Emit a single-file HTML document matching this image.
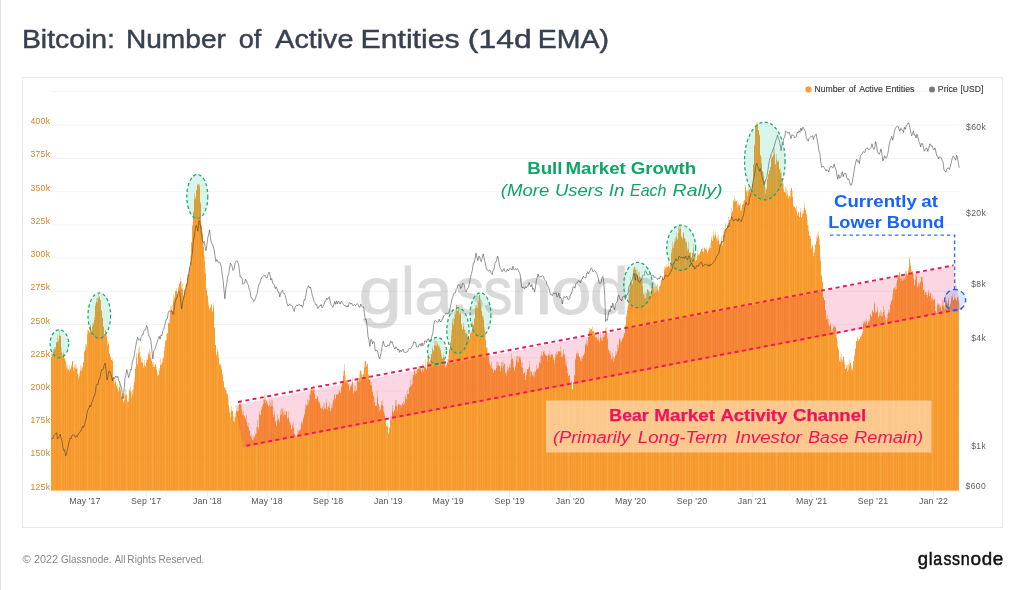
<!DOCTYPE html>
<html><head><meta charset="utf-8"><title>Bitcoin: Number of Active Entities (14d EMA)</title>
<style>
html,body{margin:0;padding:0;background:#fff;}
body{width:1024px;height:590px;position:relative;overflow:hidden;font-family:"Liberation Sans",sans-serif;}
.edge{position:absolute;left:0px;top:0;width:1px;height:590px;background:#e4e4e4;}
.title{position:absolute;left:22px;top:22px;font-size:26.3px;color:#374151;white-space:nowrap;letter-spacing:1.42px;line-height:32px;-webkit-text-stroke:0.35px #374151;}
.card{position:absolute;left:22px;top:77px;width:981px;height:451px;border:1px solid #eaeaea;box-sizing:border-box;background:#fff;}
.foot{position:absolute;left:22px;top:552px;font-size:10.6px;color:#7a7a7a;letter-spacing:0.25px;line-height:14px;white-space:nowrap;}
.logo{position:absolute;right:21px;top:545px;font-size:20px;color:#111;font-weight:bold;letter-spacing:-0.3px;line-height:26px;white-space:nowrap;}
svg{position:absolute;left:0;top:0;will-change:transform;}
svg text{font-family:"Liberation Sans",sans-serif;}
</style></head><body>
<div class="edge"></div>
<div class="card"></div>
<svg width="1024" height="590" viewBox="0 0 1024 590">
<defs>
<pattern id="stripes" width="13" height="8" patternUnits="userSpaceOnUse" fill="#fff"><rect x="1" width="1" height="8" fill-opacity="0.09"/><rect x="3" width="1" height="8" fill-opacity="0.07"/><rect x="6" width="1" height="8" fill-opacity="0.05"/><rect x="8" width="1" height="8" fill-opacity="0.03"/><rect x="9" width="1" height="8" fill-opacity="0.1"/><rect x="10" width="1" height="8" fill-opacity="0.05"/><rect x="12" width="1" height="8" fill-opacity="0.03"/></pattern>
<clipPath id="oc"><path d="M51 490.6V357.2 H52V354.5 H53V351.3 H54V349.1 H55V348.7 H56V342.4 H57V342.1 H58V341.0 H59V335.8 H60V336.0 H61V352.5 H62V356.0 H63V354.3 H64V358.3 H65V361.6 H66V367.5 H67V369.8 H68V369.7 H69V370.9 H70V369.2 H71V366.5 H72V361.3 H73V371.0 H74V368.2 H75V368.3 H76V369.1 H77V373.8 H78V378.4 H79V376.3 H80V370.5 H81V371.3 H82V368.4 H83V362.6 H84V351.6 H85V349.6 H86V346.2 H87V334.4 H88V330.9 H89V332.6 H90V325.6 H91V330.8 H92V326.4 H93V324.4 H94V320.0 H95V306.1 H96V302.0 H97V302.4 H98V298.5 H99V296.7 H100V300.2 H101V310.7 H102V318.0 H103V326.8 H104V334.3 H105V330.5 H106V336.5 H107V345.8 H108V343.7 H109V353.7 H110V357.6 H111V360.1 H112V361.2 H113V377.7 H114V383.8 H115V381.4 H116V386.0 H117V388.4 H118V391.4 H119V386.9 H120V390.3 H121V396.4 H122V396.3 H123V402.4 H124V400.2 H125V395.8 H126V395.3 H127V402.2 H128V402.0 H129V390.8 H130V391.6 H131V397.6 H132V394.5 H133V389.8 H134V382.2 H135V368.9 H136V357.6 H137V364.5 H138V353.6 H139V352.2 H140V357.4 H141V362.6 H142V362.4 H143V367.7 H144V365.3 H145V367.0 H146V362.4 H147V359.7 H148V354.0 H149V354.5 H150V358.0 H151V360.9 H152V364.3 H153V367.0 H154V367.1 H155V365.1 H156V370.0 H157V376.0 H158V375.6 H159V370.8 H160V364.7 H161V365.3 H162V362.5 H163V358.8 H164V350.7 H165V341.2 H166V339.9 H167V333.3 H168V323.3 H169V323.1 H170V312.0 H171V309.6 H172V310.9 H173V301.1 H174V298.0 H175V290.9 H176V290.9 H177V295.2 H178V287.5 H179V283.4 H180V281.5 H181V288.2 H182V289.7 H183V295.5 H184V289.9 H185V290.5 H186V284.1 H187V277.7 H188V274.8 H189V269.1 H190V262.0 H191V242.3 H192V225.8 H193V212.4 H194V199.4 H195V198.5 H196V190.2 H197V184.9 H198V185.3 H199V186.2 H200V203.4 H201V225.4 H202V234.3 H203V247.6 H204V260.9 H205V273.5 H206V290.2 H207V295.9 H208V305.6 H209V309.6 H210V307.5 H211V304.8 H212V311.8 H213V306.8 H214V328.1 H215V345.2 H216V355.3 H217V351.8 H218V357.9 H219V364.4 H220V365.6 H221V369.8 H222V375.1 H223V381.6 H224V387.9 H225V390.1 H226V394.0 H227V394.7 H228V405.2 H229V412.4 H230V417.9 H231V410.5 H232V411.1 H233V421.3 H234V422.2 H235V417.1 H236V410.8 H237V412.0 H238V411.1 H239V404.2 H240V404.3 H241V409.5 H242V414.9 H243V414.9 H244V416.5 H245V418.7 H246V421.0 H247V425.9 H248V427.8 H249V430.8 H250V436.4 H251V437.5 H252V440.2 H253V439.4 H254V437.4 H255V434.8 H256V433.2 H257V426.4 H258V429.4 H259V413.7 H260V415.2 H261V410.0 H262V407.1 H263V404.0 H264V399.7 H265V403.1 H266V400.8 H267V404.9 H268V406.4 H269V405.3 H270V407.1 H271V405.7 H272V406.0 H273V417.1 H274V414.3 H275V421.7 H276V425.7 H277V420.2 H278V419.3 H279V422.0 H280V415.3 H281V414.4 H282V410.3 H283V416.4 H284V414.3 H285V415.3 H286V411.2 H287V419.2 H288V418.0 H289V422.2 H290V425.0 H291V429.4 H292V426.2 H293V427.9 H294V433.8 H295V436.5 H296V437.0 H297V435.0 H298V432.5 H299V430.8 H300V429.5 H301V422.8 H302V424.8 H303V418.2 H304V414.9 H305V409.2 H306V405.6 H307V405.0 H308V403.2 H309V400.8 H310V394.5 H311V389.4 H312V390.7 H313V389.6 H314V394.0 H315V398.9 H316V398.9 H317V397.0 H318V401.3 H319V403.1 H320V408.0 H321V409.1 H322V407.4 H323V410.2 H324V408.4 H325V409.0 H326V402.9 H327V409.7 H328V407.0 H329V408.0 H330V411.2 H331V408.5 H332V407.4 H333V400.2 H334V394.8 H335V399.1 H336V395.1 H337V394.5 H338V394.3 H339V390.8 H340V392.9 H341V386.7 H342V383.4 H343V375.7 H344V370.6 H345V381.2 H346V380.3 H347V382.6 H348V384.5 H349V390.6 H350V386.8 H351V385.4 H352V382.2 H353V393.5 H354V391.5 H355V391.6 H356V391.1 H357V379.8 H358V381.8 H359V378.0 H360V371.1 H361V374.6 H362V378.0 H363V374.6 H364V367.8 H365V361.0 H366V366.8 H367V364.5 H368V375.6 H369V379.7 H370V385.1 H371V385.4 H372V392.1 H373V396.2 H374V402.5 H375V406.0 H376V406.0 H377V397.6 H378V404.2 H379V411.1 H380V409.8 H381V405.0 H382V405.5 H383V411.5 H384V415.6 H385V419.3 H386V426.4 H387V426.3 H388V434.0 H389V428.3 H390V420.0 H391V418.4 H392V410.7 H393V413.1 H394V410.6 H395V406.0 H396V405.7 H397V410.6 H398V404.1 H399V404.9 H400V405.5 H401V407.6 H402V403.7 H403V404.9 H404V403.6 H405V397.0 H406V399.2 H407V393.9 H408V394.0 H409V388.1 H410V386.4 H411V385.8 H412V384.3 H413V375.1 H414V370.4 H415V375.0 H416V374.1 H417V369.1 H418V369.6 H419V366.2 H420V368.5 H421V371.9 H422V369.8 H423V372.0 H424V367.0 H425V366.6 H426V369.8 H427V362.1 H428V359.3 H429V362.5 H430V363.0 H431V354.3 H432V349.2 H433V351.3 H434V345.0 H435V345.8 H436V346.3 H437V344.2 H438V346.2 H439V347.5 H440V350.4 H441V356.7 H442V358.8 H443V357.0 H444V361.7 H445V367.8 H446V367.1 H447V362.5 H448V359.2 H449V348.9 H450V343.0 H451V335.7 H452V323.1 H453V325.4 H454V318.7 H455V314.3 H456V304.8 H457V311.0 H458V309.2 H459V314.4 H460V313.2 H461V324.8 H462V329.4 H463V326.7 H464V329.8 H465V332.9 H466V334.1 H467V337.1 H468V336.2 H469V339.1 H470V333.9 H471V332.3 H472V323.9 H473V325.1 H474V319.0 H475V308.3 H476V306.5 H477V308.5 H478V303.0 H479V295.0 H480V303.5 H481V311.2 H482V316.6 H483V319.4 H484V330.6 H485V340.3 H486V347.7 H487V352.9 H488V356.5 H489V364.1 H490V366.3 H491V367.9 H492V369.1 H493V373.1 H494V370.1 H495V370.2 H496V368.0 H497V365.4 H498V365.5 H499V366.6 H500V371.6 H501V365.9 H502V367.9 H503V366.1 H504V364.1 H505V372.8 H506V376.3 H507V370.3 H508V371.5 H509V367.3 H510V367.8 H511V359.2 H512V358.9 H513V367.5 H514V371.2 H515V366.2 H516V359.7 H517V362.4 H518V361.9 H519V357.9 H520V359.6 H521V366.5 H522V368.0 H523V373.8 H524V373.0 H525V380.3 H526V375.6 H527V369.3 H528V369.1 H529V366.8 H530V376.4 H531V371.8 H532V375.4 H533V376.5 H534V376.6 H535V371.9 H536V369.5 H537V369.6 H538V368.5 H539V362.8 H540V363.2 H541V354.9 H542V357.1 H543V351.9 H544V353.5 H545V354.5 H546V356.0 H547V360.8 H548V354.5 H549V356.0 H550V357.0 H551V354.8 H552V355.0 H553V359.8 H554V363.4 H555V357.6 H556V355.2 H557V354.4 H558V350.9 H559V351.7 H560V352.2 H561V356.9 H562V357.5 H563V353.7 H564V355.4 H565V364.4 H566V366.2 H567V373.2 H568V376.3 H569V375.6 H570V384.4 H571V381.7 H572V389.4 H573V382.5 H574V375.6 H575V359.6 H576V353.4 H577V355.8 H578V354.8 H579V357.3 H580V360.6 H581V361.3 H582V359.1 H583V355.6 H584V353.5 H585V345.6 H586V344.2 H587V345.4 H588V337.0 H589V331.6 H590V330.3 H591V329.0 H592V331.2 H593V331.5 H594V334.3 H595V337.6 H596V337.4 H597V339.7 H598V340.8 H599V342.6 H600V338.1 H601V340.7 H602V340.9 H603V337.6 H604V336.3 H605V331.7 H606V331.6 H607V339.1 H608V350.1 H609V352.7 H610V355.0 H611V359.3 H612V358.6 H613V362.0 H614V358.8 H615V356.0 H616V354.5 H617V351.1 H618V347.8 H619V339.8 H620V342.4 H621V342.1 H622V339.3 H623V337.2 H624V333.4 H625V325.4 H626V316.6 H627V310.4 H628V305.1 H629V294.4 H630V281.9 H631V283.5 H632V284.4 H633V269.6 H634V267.3 H635V269.7 H636V275.7 H637V275.3 H638V277.1 H639V276.4 H640V277.9 H641V282.1 H642V285.7 H643V295.1 H644V298.3 H645V298.6 H646V297.2 H647V289.6 H648V292.0 H649V295.9 H650V296.7 H651V291.3 H652V285.9 H653V289.2 H654V293.5 H655V292.5 H656V291.0 H657V289.6 H658V292.3 H659V286.7 H660V285.6 H661V280.2 H662V278.1 H663V279.4 H664V270.2 H665V268.3 H666V267.6 H667V267.3 H668V265.9 H669V267.8 H670V264.1 H671V253.5 H672V247.8 H673V248.1 H674V242.5 H675V241.1 H676V237.0 H677V239.5 H678V232.7 H679V229.6 H680V228.7 H681V237.6 H682V239.3 H683V232.8 H684V238.2 H685V242.0 H686V243.0 H687V250.8 H688V248.9 H689V252.8 H690V253.1 H691V257.5 H692V253.1 H693V249.7 H694V254.5 H695V260.9 H696V260.1 H697V255.4 H698V254.4 H699V255.1 H700V251.8 H701V249.0 H702V251.5 H703V252.4 H704V247.9 H705V249.5 H706V250.6 H707V253.4 H708V250.8 H709V248.4 H710V248.1 H711V239.5 H712V241.0 H713V235.8 H714V238.1 H715V234.8 H716V239.1 H717V240.8 H718V240.3 H719V244.3 H720V244.3 H721V242.1 H722V245.7 H723V234.8 H724V234.9 H725V229.0 H726V228.4 H727V225.1 H728V222.9 H729V223.6 H730V219.9 H731V212.9 H732V211.5 H733V201.0 H734V201.6 H735V201.6 H736V201.0 H737V207.7 H738V205.1 H739V205.4 H740V210.4 H741V211.1 H742V205.1 H743V203.7 H744V200.2 H745V187.3 H746V191.4 H747V196.3 H748V191.4 H749V189.5 H750V187.0 H751V193.2 H752V184.4 H753V164.7 H754V145.7 H755V127.6 H756V126.0 H757V124.0 H758V130.6 H759V135.2 H760V155.7 H761V163.6 H762V171.2 H763V176.0 H764V180.7 H765V193.8 H766V189.7 H767V179.1 H768V174.5 H769V171.0 H770V167.1 H771V159.2 H772V156.9 H773V154.8 H774V154.0 H775V164.5 H776V159.5 H777V162.2 H778V162.0 H779V169.4 H780V172.8 H781V178.1 H782V182.8 H783V189.3 H784V191.9 H785V192.4 H786V195.5 H787V194.8 H788V198.5 H789V196.1 H790V197.3 H791V188.3 H792V196.9 H793V206.5 H794V207.0 H795V208.4 H796V211.2 H797V215.7 H798V212.4 H799V217.4 H800V212.2 H801V217.4 H802V213.5 H803V213.5 H804V208.0 H805V210.2 H806V215.0 H807V225.0 H808V231.3 H809V235.8 H810V238.6 H811V248.4 H812V245.8 H813V255.9 H814V252.4 H815V244.7 H816V241.5 H817V238.0 H818V235.7 H819V245.0 H820V261.2 H821V275.5 H822V282.0 H823V297.3 H824V300.2 H825V310.0 H826V319.6 H827V319.4 H828V324.6 H829V326.1 H830V325.2 H831V331.5 H832V332.2 H833V327.8 H834V326.6 H835V328.0 H836V337.8 H837V346.9 H838V350.0 H839V361.4 H840V361.8 H841V359.3 H842V362.0 H843V357.0 H844V364.0 H845V368.9 H846V367.5 H847V371.5 H848V370.1 H849V365.4 H850V363.1 H851V369.1 H852V370.5 H853V361.8 H854V355.9 H855V349.3 H856V341.4 H857V338.8 H858V341.1 H859V339.5 H860V337.3 H861V335.6 H862V333.6 H863V324.1 H864V322.2 H865V323.6 H866V321.1 H867V325.5 H868V322.7 H869V320.9 H870V314.7 H871V317.1 H872V311.2 H873V312.4 H874V304.0 H875V312.7 H876V312.4 H877V311.1 H878V318.1 H879V315.6 H880V315.2 H881V316.2 H882V315.9 H883V312.1 H884V315.6 H885V320.4 H886V324.3 H887V318.7 H888V312.4 H889V312.5 H890V304.6 H891V301.6 H892V299.2 H893V290.0 H894V288.5 H895V289.7 H896V289.0 H897V280.5 H898V275.4 H899V272.4 H900V281.3 H901V278.6 H902V280.9 H903V279.7 H904V279.2 H905V277.3 H906V273.3 H907V275.4 H908V270.8 H909V259.2 H910V266.2 H911V272.3 H912V271.4 H913V278.9 H914V285.2 H915V279.8 H916V277.5 H917V287.5 H918V284.6 H919V286.3 H920V282.6 H921V277.0 H922V281.9 H923V289.9 H924V294.9 H925V292.5 H926V295.1 H927V297.8 H928V292.8 H929V296.1 H930V292.9 H931V300.4 H932V298.6 H933V299.9 H934V299.6 H935V310.9 H936V312.9 H937V304.7 H938V304.9 H939V307.4 H940V307.3 H941V310.5 H942V305.4 H943V306.3 H944V309.2 H945V301.1 H946V301.8 H947V303.9 H948V300.3 H949V306.6 H950V303.9 H951V298.8 H952V297.3 H953V300.3 H954V298.6 H955V298.6 H956V300.5 H957V298.1 H958V300.8 H959V490.6 Z"/></clipPath>
</defs>
<g stroke="#f3f3f3" stroke-width="1"><line x1="51" x2="959.5" y1="91.6" y2="91.6"/><line x1="51" x2="959.5" y1="125.2" y2="125.2"/><line x1="51" x2="959.5" y1="158.4" y2="158.4"/><line x1="51" x2="959.5" y1="191.7" y2="191.7"/><line x1="51" x2="959.5" y1="224.9" y2="224.9"/><line x1="51" x2="959.5" y1="258.1" y2="258.1"/><line x1="51" x2="959.5" y1="291.3" y2="291.3"/><line x1="51" x2="959.5" y1="324.5" y2="324.5"/><line x1="51" x2="959.5" y1="357.8" y2="357.8"/><line x1="51" x2="959.5" y1="391.0" y2="391.0"/><line x1="51" x2="959.5" y1="424.2" y2="424.2"/><line x1="51" x2="959.5" y1="457.4" y2="457.4"/></g>
<g stroke="#ececec" stroke-width="1"><line x1="84.9" x2="84.9" y1="490.6" y2="497"/><line x1="146.1" x2="146.1" y1="490.6" y2="497"/><line x1="207.4" x2="207.4" y1="490.6" y2="497"/><line x1="267.0" x2="267.0" y1="490.6" y2="497"/><line x1="328.1" x2="328.1" y1="490.6" y2="497"/><line x1="388.4" x2="388.4" y1="490.6" y2="497"/><line x1="448.2" x2="448.2" y1="490.6" y2="497"/><line x1="509.7" x2="509.7" y1="490.6" y2="497"/><line x1="570.3" x2="570.3" y1="490.6" y2="497"/><line x1="630.7" x2="630.7" y1="490.6" y2="497"/><line x1="692.0" x2="692.0" y1="490.6" y2="497"/><line x1="752.3" x2="752.3" y1="490.6" y2="497"/><line x1="811.7" x2="811.7" y1="490.6" y2="497"/><line x1="873.0" x2="873.0" y1="490.6" y2="497"/><line x1="933.5" x2="933.5" y1="490.6" y2="497"/></g>
<g opacity="0.145"><text x="358.60" y="314.40" font-size="66.3" font-weight="normal" font-style="normal" fill="#000" stroke="#000" stroke-width="0.9" textLength="43.47" lengthAdjust="spacingAndGlyphs" >g</text><text x="401.03" y="314.40" font-size="66.3" font-weight="normal" font-style="normal" fill="#000" stroke="#000" stroke-width="0.9" textLength="13.53" lengthAdjust="spacingAndGlyphs" >l</text><text x="414.36" y="314.40" font-size="66.3" font-weight="normal" font-style="normal" fill="#000" stroke="#000" stroke-width="0.9" textLength="38.35" lengthAdjust="spacingAndGlyphs" >a</text><text x="455.15" y="314.40" font-size="66.3" font-weight="normal" font-style="normal" fill="#000" stroke="#000" stroke-width="0.9" textLength="29.18" lengthAdjust="spacingAndGlyphs" >s</text><text x="483.35" y="314.40" font-size="66.3" font-weight="normal" font-style="normal" fill="#000" stroke="#000" stroke-width="0.9" textLength="29.18" lengthAdjust="spacingAndGlyphs" >s</text><text x="510.26" y="314.40" font-size="66.3" font-weight="normal" font-style="normal" fill="#000" stroke="#000" stroke-width="0.9" textLength="41.83" lengthAdjust="spacingAndGlyphs" >n</text><text x="550.60" y="314.40" font-size="66.3" font-weight="normal" font-style="normal" fill="#000" stroke="#000" stroke-width="0.9" textLength="41.05" lengthAdjust="spacingAndGlyphs" >o</text><text x="589.80" y="314.40" font-size="66.3" font-weight="normal" font-style="normal" fill="#000" stroke="#000" stroke-width="0.9" textLength="39.33" lengthAdjust="spacingAndGlyphs" >d</text><text x="625.84" y="314.40" font-size="66.3" font-weight="normal" font-style="normal" fill="#000" stroke="#000" stroke-width="0.9" textLength="35.45" lengthAdjust="spacingAndGlyphs" >e</text></g>
<path d="M51 490.6V353.5 H52V351.7 H53V348.8 H54V347.1 H55V346.8 H56V342.1 H57V335.7 H58V339.3 H59V330.2 H60V335.6 H61V347.4 H62V352.9 H63V351.5 H64V358.2 H65V359.7 H66V364.4 H67V364.9 H68V368.8 H69V365.2 H70V368.2 H71V364.6 H72V360.9 H73V367.1 H74V365.1 H75V364.3 H76V366.0 H77V367.4 H78V374.6 H79V372.6 H80V365.2 H81V367.5 H82V366.2 H83V362.5 H84V351.3 H85V343.9 H86V344.1 H87V329.2 H88V329.9 H89V326.8 H90V325.2 H91V330.0 H92V323.3 H93V322.5 H94V317.0 H95V303.6 H96V298.1 H97V297.6 H98V293.5 H99V296.5 H100V300.1 H101V310.3 H102V318.0 H103V326.6 H104V334.3 H105V330.1 H106V335.0 H107V340.3 H108V341.4 H109V353.5 H110V356.6 H111V360.1 H112V358.6 H113V377.6 H114V377.0 H115V380.4 H116V385.5 H117V383.6 H118V390.6 H119V381.3 H120V385.1 H121V393.8 H122V396.3 H123V401.5 H124V393.7 H125V388.9 H126V393.8 H127V401.6 H128V398.6 H129V388.5 H130V386.6 H131V391.5 H132V389.9 H133V384.9 H134V377.2 H135V367.1 H136V353.3 H137V364.0 H138V348.5 H139V345.4 H140V356.0 H141V362.6 H142V358.8 H143V365.7 H144V360.1 H145V365.9 H146V359.3 H147V359.3 H148V352.5 H149V348.5 H150V351.9 H151V358.3 H152V362.3 H153V362.0 H154V364.8 H155V363.8 H156V367.1 H157V373.1 H158V374.5 H159V367.9 H160V358.6 H161V362.8 H162V358.5 H163V356.5 H164V346.6 H165V340.3 H166V333.4 H167V333.0 H168V323.1 H169V319.3 H170V306.1 H171V305.9 H172V305.1 H173V294.6 H174V295.7 H175V290.5 H176V288.3 H177V293.9 H178V287.5 H179V283.4 H180V278.1 H181V281.4 H182V283.0 H183V295.4 H184V288.9 H185V284.5 H186V283.1 H187V274.7 H188V274.6 H189V267.1 H190V255.6 H191V242.2 H192V225.6 H193V211.0 H194V193.1 H195V195.9 H196V189.9 H197V184.3 H198V184.1 H199V183.7 H200V202.0 H201V225.4 H202V231.4 H203V241.3 H204V255.7 H205V268.1 H206V287.7 H207V294.5 H208V301.5 H209V308.2 H210V307.2 H211V303.9 H212V311.6 H213V303.0 H214V327.3 H215V344.8 H216V354.4 H217V349.0 H218V351.2 H219V364.4 H220V363.3 H221V367.3 H222V374.1 H223V381.6 H224V386.7 H225V387.4 H226V390.3 H227V393.0 H228V398.4 H229V408.8 H230V412.5 H231V406.1 H232V410.8 H233V415.9 H234V416.9 H235V413.1 H236V410.0 H237V410.5 H238V405.7 H239V400.7 H240V401.9 H241V404.9 H242V412.1 H243V410.5 H244V416.3 H245V418.1 H246V414.3 H247V423.6 H248V423.1 H249V430.6 H250V435.5 H251V434.5 H252V440.1 H253V435.4 H254V436.3 H255V432.6 H256V427.3 H257V420.1 H258V427.3 H259V411.6 H260V414.6 H261V406.9 H262V404.5 H263V398.8 H264V393.9 H265V397.2 H266V400.8 H267V402.8 H268V406.0 H269V399.9 H270V402.5 H271V399.4 H272V400.0 H273V415.4 H274V411.1 H275V420.7 H276V425.4 H277V413.8 H278V418.4 H279V420.4 H280V409.5 H281V408.3 H282V407.5 H283V412.0 H284V409.7 H285V415.2 H286V410.9 H287V418.1 H288V411.3 H289V421.0 H290V423.2 H291V428.7 H292V423.7 H293V420.9 H294V433.4 H295V435.1 H296V436.2 H297V429.2 H298V430.7 H299V429.2 H300V429.4 H301V422.5 H302V421.3 H303V417.2 H304V413.1 H305V403.8 H306V405.6 H307V399.1 H308V400.1 H309V394.6 H310V388.9 H311V389.2 H312V388.0 H313V385.3 H314V389.3 H315V398.9 H316V398.1 H317V395.8 H318V400.4 H319V402.8 H320V405.3 H321V408.3 H322V407.4 H323V403.7 H324V402.6 H325V408.1 H326V398.7 H327V407.2 H328V405.1 H329V401.7 H330V411.1 H331V404.6 H332V402.5 H333V399.5 H334V393.6 H335V398.3 H336V393.9 H337V393.9 H338V392.4 H339V390.4 H340V392.2 H341V386.6 H342V381.7 H343V371.3 H344V364.3 H345V374.9 H346V380.3 H347V381.0 H348V384.0 H349V389.2 H350V386.5 H351V383.9 H352V377.0 H353V391.2 H354V385.3 H355V385.7 H356V389.2 H357V379.8 H358V381.6 H359V373.4 H360V369.7 H361V371.2 H362V373.7 H363V374.6 H364V361.7 H365V360.9 H366V364.5 H367V362.8 H368V373.6 H369V379.2 H370V380.6 H371V382.1 H372V390.8 H373V396.1 H374V397.9 H375V405.9 H376V404.7 H377V390.8 H378V404.0 H379V406.9 H380V409.0 H381V401.1 H382V400.0 H383V406.1 H384V412.7 H385V418.7 H386V425.5 H387V423.2 H388V432.2 H389V427.5 H390V416.3 H391V416.1 H392V405.3 H393V412.0 H394V410.0 H395V399.7 H396V400.1 H397V405.8 H398V403.9 H399V404.2 H400V405.1 H401V404.4 H402V403.0 H403V401.0 H404V402.4 H405V394.2 H406V399.0 H407V390.3 H408V393.5 H409V387.1 H410V379.9 H411V384.3 H412V378.6 H413V374.5 H414V369.8 H415V373.1 H416V372.3 H417V368.7 H418V366.8 H419V366.0 H420V367.0 H421V370.9 H422V363.5 H423V366.9 H424V366.4 H425V359.8 H426V369.7 H427V356.1 H428V354.0 H429V361.7 H430V357.6 H431V353.6 H432V346.6 H433V350.4 H434V339.1 H435V341.2 H436V340.9 H437V341.4 H438V345.0 H439V345.6 H440V348.3 H441V353.3 H442V358.0 H443V354.8 H444V359.5 H445V365.8 H446V365.1 H447V358.9 H448V354.8 H449V348.8 H450V341.4 H451V330.1 H452V318.7 H453V318.6 H454V312.1 H455V309.4 H456V304.7 H457V310.5 H458V308.2 H459V311.9 H460V312.5 H461V323.6 H462V328.8 H463V322.8 H464V329.3 H465V330.2 H466V332.6 H467V334.1 H468V336.0 H469V337.4 H470V333.0 H471V330.8 H472V321.8 H473V325.0 H474V318.2 H475V305.1 H476V305.3 H477V308.1 H478V301.0 H479V294.6 H480V299.8 H481V309.7 H482V315.1 H483V316.3 H484V327.1 H485V333.9 H486V347.3 H487V347.2 H488V354.7 H489V360.5 H490V364.8 H491V361.5 H492V368.2 H493V370.4 H494V369.3 H495V370.2 H496V361.6 H497V362.1 H498V361.9 H499V365.4 H500V371.5 H501V361.7 H502V362.5 H503V361.6 H504V363.3 H505V372.8 H506V371.7 H507V366.1 H508V368.6 H509V364.6 H510V364.2 H511V353.4 H512V358.0 H513V361.1 H514V369.9 H515V365.4 H516V356.1 H517V355.6 H518V356.5 H519V355.9 H520V356.6 H521V363.1 H522V361.9 H523V373.5 H524V371.5 H525V380.2 H526V372.1 H527V369.2 H528V367.6 H529V361.0 H530V370.8 H531V371.5 H532V375.2 H533V371.3 H534V371.4 H535V371.6 H536V364.9 H537V367.7 H538V367.6 H539V361.2 H540V356.6 H541V351.5 H542V355.3 H543V350.4 H544V350.8 H545V354.3 H546V355.5 H547V356.1 H548V354.5 H549V351.0 H550V354.6 H551V353.9 H552V354.0 H553V357.4 H554V359.8 H555V353.5 H556V351.7 H557V352.6 H558V350.8 H559V351.1 H560V346.2 H561V351.0 H562V355.3 H563V349.1 H564V354.0 H565V358.9 H566V361.8 H567V368.4 H568V376.0 H569V374.7 H570V383.3 H571V381.2 H572V388.5 H573V382.1 H574V375.0 H575V359.3 H576V353.2 H577V350.8 H578V352.8 H579V357.1 H580V358.9 H581V356.4 H582V356.6 H583V355.3 H584V351.7 H585V343.6 H586V339.7 H587V341.1 H588V332.3 H589V327.7 H590V328.2 H591V328.7 H592V326.3 H593V330.7 H594V332.2 H595V333.7 H596V336.9 H597V338.0 H598V334.1 H599V342.1 H600V331.7 H601V337.7 H602V336.6 H603V332.3 H604V334.5 H605V327.7 H606V326.9 H607V337.6 H608V349.1 H609V350.8 H610V350.9 H611V358.5 H612V352.2 H613V357.0 H614V358.1 H615V350.9 H616V352.3 H617V344.4 H618V344.3 H619V337.6 H620V339.5 H621V340.6 H622V338.4 H623V335.2 H624V333.4 H625V324.6 H626V314.3 H627V306.7 H628V298.8 H629V289.2 H630V277.0 H631V280.0 H632V284.4 H633V268.7 H634V266.9 H635V268.2 H636V269.7 H637V269.4 H638V272.3 H639V271.5 H640V277.2 H641V277.7 H642V279.8 H643V294.3 H644V295.8 H645V298.2 H646V294.7 H647V289.6 H648V289.7 H649V290.5 H650V294.8 H651V287.8 H652V285.8 H653V282.9 H654V286.7 H655V286.5 H656V286.8 H657V284.0 H658V290.1 H659V286.1 H660V283.6 H661V279.1 H662V276.3 H663V276.8 H664V266.5 H665V267.0 H666V264.4 H667V267.3 H668V260.0 H669V266.6 H670V263.5 H671V249.8 H672V241.7 H673V244.6 H674V239.3 H675V237.3 H676V232.3 H677V239.5 H678V226.6 H679V224.4 H680V225.7 H681V235.7 H682V237.3 H683V232.8 H684V238.1 H685V238.9 H686V240.9 H687V247.6 H688V242.1 H689V252.6 H690V252.4 H691V257.5 H692V252.8 H693V244.0 H694V254.4 H695V256.5 H696V260.0 H697V249.9 H698V254.2 H699V253.0 H700V250.9 H701V249.0 H702V247.8 H703V251.1 H704V247.4 H705V249.4 H706V247.6 H707V253.0 H708V249.3 H709V246.6 H710V243.2 H711V236.5 H712V240.8 H713V230.6 H714V234.8 H715V231.5 H716V237.2 H717V236.8 H718V234.4 H719V244.3 H720V242.4 H721V236.2 H722V240.4 H723V231.7 H724V229.5 H725V222.9 H726V228.3 H727V224.4 H728V216.6 H729V219.7 H730V219.3 H731V207.9 H732V211.3 H733V200.3 H734V195.6 H735V199.3 H736V200.4 H737V203.5 H738V202.2 H739V205.0 H740V203.4 H741V207.5 H742V204.6 H743V201.1 H744V200.1 H745V185.0 H746V190.4 H747V189.8 H748V186.2 H749V189.5 H750V186.5 H751V190.3 H752V182.2 H753V164.6 H754V143.9 H755V126.7 H756V122.4 H757V122.2 H758V130.2 H759V134.4 H760V154.8 H761V157.5 H762V171.1 H763V172.3 H764V180.6 H765V187.4 H766V188.6 H767V178.9 H768V173.6 H769V170.5 H770V166.8 H771V155.0 H772V156.9 H773V148.5 H774V148.2 H775V164.3 H776V154.1 H777V160.8 H778V159.7 H779V168.7 H780V168.6 H781V172.4 H782V181.0 H783V183.9 H784V191.4 H785V186.4 H786V188.8 H787V191.0 H788V196.2 H789V195.5 H790V190.4 H791V188.0 H792V191.0 H793V205.4 H794V207.0 H795V208.0 H796V205.9 H797V213.7 H798V211.7 H799V216.9 H800V208.0 H801V217.3 H802V211.1 H803V210.2 H804V202.9 H805V210.1 H806V213.2 H807V219.9 H808V225.9 H809V235.8 H810V236.3 H811V247.8 H812V244.2 H813V252.7 H814V249.7 H815V244.4 H816V236.3 H817V233.8 H818V231.2 H819V238.4 H820V258.6 H821V275.4 H822V281.3 H823V296.4 H824V300.2 H825V309.4 H826V316.4 H827V315.3 H828V318.9 H829V325.8 H830V322.7 H831V329.7 H832V329.0 H833V324.7 H834V326.1 H835V326.3 H836V332.4 H837V340.6 H838V348.7 H839V359.4 H840V356.8 H841V353.9 H842V359.4 H843V356.1 H844V360.4 H845V368.7 H846V365.0 H847V364.8 H848V363.8 H849V359.6 H850V363.1 H851V365.2 H852V367.7 H853V360.9 H854V353.9 H855V348.1 H856V341.1 H857V336.2 H858V338.9 H859V339.2 H860V336.2 H861V334.7 H862V330.7 H863V321.1 H864V321.5 H865V320.8 H866V318.9 H867V324.7 H868V321.1 H869V319.5 H870V313.9 H871V316.0 H872V310.1 H873V312.3 H874V301.9 H875V310.7 H876V312.1 H877V306.6 H878V316.7 H879V312.2 H880V310.0 H881V311.7 H882V313.6 H883V306.0 H884V309.9 H885V317.2 H886V317.7 H887V313.9 H888V309.1 H889V310.3 H890V303.5 H891V299.9 H892V294.3 H893V287.9 H894V287.3 H895V286.6 H896V282.8 H897V275.1 H898V274.7 H899V272.4 H900V278.3 H901V273.8 H902V273.9 H903V275.7 H904V277.7 H905V270.8 H906V270.7 H907V273.7 H908V267.8 H909V256.8 H910V262.7 H911V269.6 H912V270.9 H913V273.6 H914V284.9 H915V274.6 H916V271.7 H917V286.4 H918V282.1 H919V282.8 H920V281.1 H921V276.9 H922V277.0 H923V289.9 H924V289.5 H925V291.9 H926V292.2 H927V295.1 H928V289.8 H929V295.7 H930V292.6 H931V297.8 H932V295.2 H933V299.9 H934V298.4 H935V310.4 H936V312.6 H937V303.3 H938V303.2 H939V304.3 H940V305.2 H941V310.5 H942V299.9 H943V301.1 H944V306.0 H945V294.6 H946V300.1 H947V302.7 H948V298.0 H949V306.1 H950V303.3 H951V295.8 H952V294.5 H953V300.2 H954V293.3 H955V298.0 H956V299.7 H957V296.7 H958V296.7 H959V490.6 Z" fill="#f6941f" fill-opacity="0.42"/>
<path d="M51 490.6V357.2 H52V354.5 H53V351.3 H54V349.1 H55V348.7 H56V342.4 H57V342.1 H58V341.0 H59V335.8 H60V336.0 H61V352.5 H62V356.0 H63V354.3 H64V358.3 H65V361.6 H66V367.5 H67V369.8 H68V369.7 H69V370.9 H70V369.2 H71V366.5 H72V361.3 H73V371.0 H74V368.2 H75V368.3 H76V369.1 H77V373.8 H78V378.4 H79V376.3 H80V370.5 H81V371.3 H82V368.4 H83V362.6 H84V351.6 H85V349.6 H86V346.2 H87V334.4 H88V330.9 H89V332.6 H90V325.6 H91V330.8 H92V326.4 H93V324.4 H94V320.0 H95V306.1 H96V302.0 H97V302.4 H98V298.5 H99V296.7 H100V300.2 H101V310.7 H102V318.0 H103V326.8 H104V334.3 H105V330.5 H106V336.5 H107V345.8 H108V343.7 H109V353.7 H110V357.6 H111V360.1 H112V361.2 H113V377.7 H114V383.8 H115V381.4 H116V386.0 H117V388.4 H118V391.4 H119V386.9 H120V390.3 H121V396.4 H122V396.3 H123V402.4 H124V400.2 H125V395.8 H126V395.3 H127V402.2 H128V402.0 H129V390.8 H130V391.6 H131V397.6 H132V394.5 H133V389.8 H134V382.2 H135V368.9 H136V357.6 H137V364.5 H138V353.6 H139V352.2 H140V357.4 H141V362.6 H142V362.4 H143V367.7 H144V365.3 H145V367.0 H146V362.4 H147V359.7 H148V354.0 H149V354.5 H150V358.0 H151V360.9 H152V364.3 H153V367.0 H154V367.1 H155V365.1 H156V370.0 H157V376.0 H158V375.6 H159V370.8 H160V364.7 H161V365.3 H162V362.5 H163V358.8 H164V350.7 H165V341.2 H166V339.9 H167V333.3 H168V323.3 H169V323.1 H170V312.0 H171V309.6 H172V310.9 H173V301.1 H174V298.0 H175V290.9 H176V290.9 H177V295.2 H178V287.5 H179V283.4 H180V281.5 H181V288.2 H182V289.7 H183V295.5 H184V289.9 H185V290.5 H186V284.1 H187V277.7 H188V274.8 H189V269.1 H190V262.0 H191V242.3 H192V225.8 H193V212.4 H194V199.4 H195V198.5 H196V190.2 H197V184.9 H198V185.3 H199V186.2 H200V203.4 H201V225.4 H202V234.3 H203V247.6 H204V260.9 H205V273.5 H206V290.2 H207V295.9 H208V305.6 H209V309.6 H210V307.5 H211V304.8 H212V311.8 H213V306.8 H214V328.1 H215V345.2 H216V355.3 H217V351.8 H218V357.9 H219V364.4 H220V365.6 H221V369.8 H222V375.1 H223V381.6 H224V387.9 H225V390.1 H226V394.0 H227V394.7 H228V405.2 H229V412.4 H230V417.9 H231V410.5 H232V411.1 H233V421.3 H234V422.2 H235V417.1 H236V410.8 H237V412.0 H238V411.1 H239V404.2 H240V404.3 H241V409.5 H242V414.9 H243V414.9 H244V416.5 H245V418.7 H246V421.0 H247V425.9 H248V427.8 H249V430.8 H250V436.4 H251V437.5 H252V440.2 H253V439.4 H254V437.4 H255V434.8 H256V433.2 H257V426.4 H258V429.4 H259V413.7 H260V415.2 H261V410.0 H262V407.1 H263V404.0 H264V399.7 H265V403.1 H266V400.8 H267V404.9 H268V406.4 H269V405.3 H270V407.1 H271V405.7 H272V406.0 H273V417.1 H274V414.3 H275V421.7 H276V425.7 H277V420.2 H278V419.3 H279V422.0 H280V415.3 H281V414.4 H282V410.3 H283V416.4 H284V414.3 H285V415.3 H286V411.2 H287V419.2 H288V418.0 H289V422.2 H290V425.0 H291V429.4 H292V426.2 H293V427.9 H294V433.8 H295V436.5 H296V437.0 H297V435.0 H298V432.5 H299V430.8 H300V429.5 H301V422.8 H302V424.8 H303V418.2 H304V414.9 H305V409.2 H306V405.6 H307V405.0 H308V403.2 H309V400.8 H310V394.5 H311V389.4 H312V390.7 H313V389.6 H314V394.0 H315V398.9 H316V398.9 H317V397.0 H318V401.3 H319V403.1 H320V408.0 H321V409.1 H322V407.4 H323V410.2 H324V408.4 H325V409.0 H326V402.9 H327V409.7 H328V407.0 H329V408.0 H330V411.2 H331V408.5 H332V407.4 H333V400.2 H334V394.8 H335V399.1 H336V395.1 H337V394.5 H338V394.3 H339V390.8 H340V392.9 H341V386.7 H342V383.4 H343V375.7 H344V370.6 H345V381.2 H346V380.3 H347V382.6 H348V384.5 H349V390.6 H350V386.8 H351V385.4 H352V382.2 H353V393.5 H354V391.5 H355V391.6 H356V391.1 H357V379.8 H358V381.8 H359V378.0 H360V371.1 H361V374.6 H362V378.0 H363V374.6 H364V367.8 H365V361.0 H366V366.8 H367V364.5 H368V375.6 H369V379.7 H370V385.1 H371V385.4 H372V392.1 H373V396.2 H374V402.5 H375V406.0 H376V406.0 H377V397.6 H378V404.2 H379V411.1 H380V409.8 H381V405.0 H382V405.5 H383V411.5 H384V415.6 H385V419.3 H386V426.4 H387V426.3 H388V434.0 H389V428.3 H390V420.0 H391V418.4 H392V410.7 H393V413.1 H394V410.6 H395V406.0 H396V405.7 H397V410.6 H398V404.1 H399V404.9 H400V405.5 H401V407.6 H402V403.7 H403V404.9 H404V403.6 H405V397.0 H406V399.2 H407V393.9 H408V394.0 H409V388.1 H410V386.4 H411V385.8 H412V384.3 H413V375.1 H414V370.4 H415V375.0 H416V374.1 H417V369.1 H418V369.6 H419V366.2 H420V368.5 H421V371.9 H422V369.8 H423V372.0 H424V367.0 H425V366.6 H426V369.8 H427V362.1 H428V359.3 H429V362.5 H430V363.0 H431V354.3 H432V349.2 H433V351.3 H434V345.0 H435V345.8 H436V346.3 H437V344.2 H438V346.2 H439V347.5 H440V350.4 H441V356.7 H442V358.8 H443V357.0 H444V361.7 H445V367.8 H446V367.1 H447V362.5 H448V359.2 H449V348.9 H450V343.0 H451V335.7 H452V323.1 H453V325.4 H454V318.7 H455V314.3 H456V304.8 H457V311.0 H458V309.2 H459V314.4 H460V313.2 H461V324.8 H462V329.4 H463V326.7 H464V329.8 H465V332.9 H466V334.1 H467V337.1 H468V336.2 H469V339.1 H470V333.9 H471V332.3 H472V323.9 H473V325.1 H474V319.0 H475V308.3 H476V306.5 H477V308.5 H478V303.0 H479V295.0 H480V303.5 H481V311.2 H482V316.6 H483V319.4 H484V330.6 H485V340.3 H486V347.7 H487V352.9 H488V356.5 H489V364.1 H490V366.3 H491V367.9 H492V369.1 H493V373.1 H494V370.1 H495V370.2 H496V368.0 H497V365.4 H498V365.5 H499V366.6 H500V371.6 H501V365.9 H502V367.9 H503V366.1 H504V364.1 H505V372.8 H506V376.3 H507V370.3 H508V371.5 H509V367.3 H510V367.8 H511V359.2 H512V358.9 H513V367.5 H514V371.2 H515V366.2 H516V359.7 H517V362.4 H518V361.9 H519V357.9 H520V359.6 H521V366.5 H522V368.0 H523V373.8 H524V373.0 H525V380.3 H526V375.6 H527V369.3 H528V369.1 H529V366.8 H530V376.4 H531V371.8 H532V375.4 H533V376.5 H534V376.6 H535V371.9 H536V369.5 H537V369.6 H538V368.5 H539V362.8 H540V363.2 H541V354.9 H542V357.1 H543V351.9 H544V353.5 H545V354.5 H546V356.0 H547V360.8 H548V354.5 H549V356.0 H550V357.0 H551V354.8 H552V355.0 H553V359.8 H554V363.4 H555V357.6 H556V355.2 H557V354.4 H558V350.9 H559V351.7 H560V352.2 H561V356.9 H562V357.5 H563V353.7 H564V355.4 H565V364.4 H566V366.2 H567V373.2 H568V376.3 H569V375.6 H570V384.4 H571V381.7 H572V389.4 H573V382.5 H574V375.6 H575V359.6 H576V353.4 H577V355.8 H578V354.8 H579V357.3 H580V360.6 H581V361.3 H582V359.1 H583V355.6 H584V353.5 H585V345.6 H586V344.2 H587V345.4 H588V337.0 H589V331.6 H590V330.3 H591V329.0 H592V331.2 H593V331.5 H594V334.3 H595V337.6 H596V337.4 H597V339.7 H598V340.8 H599V342.6 H600V338.1 H601V340.7 H602V340.9 H603V337.6 H604V336.3 H605V331.7 H606V331.6 H607V339.1 H608V350.1 H609V352.7 H610V355.0 H611V359.3 H612V358.6 H613V362.0 H614V358.8 H615V356.0 H616V354.5 H617V351.1 H618V347.8 H619V339.8 H620V342.4 H621V342.1 H622V339.3 H623V337.2 H624V333.4 H625V325.4 H626V316.6 H627V310.4 H628V305.1 H629V294.4 H630V281.9 H631V283.5 H632V284.4 H633V269.6 H634V267.3 H635V269.7 H636V275.7 H637V275.3 H638V277.1 H639V276.4 H640V277.9 H641V282.1 H642V285.7 H643V295.1 H644V298.3 H645V298.6 H646V297.2 H647V289.6 H648V292.0 H649V295.9 H650V296.7 H651V291.3 H652V285.9 H653V289.2 H654V293.5 H655V292.5 H656V291.0 H657V289.6 H658V292.3 H659V286.7 H660V285.6 H661V280.2 H662V278.1 H663V279.4 H664V270.2 H665V268.3 H666V267.6 H667V267.3 H668V265.9 H669V267.8 H670V264.1 H671V253.5 H672V247.8 H673V248.1 H674V242.5 H675V241.1 H676V237.0 H677V239.5 H678V232.7 H679V229.6 H680V228.7 H681V237.6 H682V239.3 H683V232.8 H684V238.2 H685V242.0 H686V243.0 H687V250.8 H688V248.9 H689V252.8 H690V253.1 H691V257.5 H692V253.1 H693V249.7 H694V254.5 H695V260.9 H696V260.1 H697V255.4 H698V254.4 H699V255.1 H700V251.8 H701V249.0 H702V251.5 H703V252.4 H704V247.9 H705V249.5 H706V250.6 H707V253.4 H708V250.8 H709V248.4 H710V248.1 H711V239.5 H712V241.0 H713V235.8 H714V238.1 H715V234.8 H716V239.1 H717V240.8 H718V240.3 H719V244.3 H720V244.3 H721V242.1 H722V245.7 H723V234.8 H724V234.9 H725V229.0 H726V228.4 H727V225.1 H728V222.9 H729V223.6 H730V219.9 H731V212.9 H732V211.5 H733V201.0 H734V201.6 H735V201.6 H736V201.0 H737V207.7 H738V205.1 H739V205.4 H740V210.4 H741V211.1 H742V205.1 H743V203.7 H744V200.2 H745V187.3 H746V191.4 H747V196.3 H748V191.4 H749V189.5 H750V187.0 H751V193.2 H752V184.4 H753V164.7 H754V145.7 H755V127.6 H756V126.0 H757V124.0 H758V130.6 H759V135.2 H760V155.7 H761V163.6 H762V171.2 H763V176.0 H764V180.7 H765V193.8 H766V189.7 H767V179.1 H768V174.5 H769V171.0 H770V167.1 H771V159.2 H772V156.9 H773V154.8 H774V154.0 H775V164.5 H776V159.5 H777V162.2 H778V162.0 H779V169.4 H780V172.8 H781V178.1 H782V182.8 H783V189.3 H784V191.9 H785V192.4 H786V195.5 H787V194.8 H788V198.5 H789V196.1 H790V197.3 H791V188.3 H792V196.9 H793V206.5 H794V207.0 H795V208.4 H796V211.2 H797V215.7 H798V212.4 H799V217.4 H800V212.2 H801V217.4 H802V213.5 H803V213.5 H804V208.0 H805V210.2 H806V215.0 H807V225.0 H808V231.3 H809V235.8 H810V238.6 H811V248.4 H812V245.8 H813V255.9 H814V252.4 H815V244.7 H816V241.5 H817V238.0 H818V235.7 H819V245.0 H820V261.2 H821V275.5 H822V282.0 H823V297.3 H824V300.2 H825V310.0 H826V319.6 H827V319.4 H828V324.6 H829V326.1 H830V325.2 H831V331.5 H832V332.2 H833V327.8 H834V326.6 H835V328.0 H836V337.8 H837V346.9 H838V350.0 H839V361.4 H840V361.8 H841V359.3 H842V362.0 H843V357.0 H844V364.0 H845V368.9 H846V367.5 H847V371.5 H848V370.1 H849V365.4 H850V363.1 H851V369.1 H852V370.5 H853V361.8 H854V355.9 H855V349.3 H856V341.4 H857V338.8 H858V341.1 H859V339.5 H860V337.3 H861V335.6 H862V333.6 H863V324.1 H864V322.2 H865V323.6 H866V321.1 H867V325.5 H868V322.7 H869V320.9 H870V314.7 H871V317.1 H872V311.2 H873V312.4 H874V304.0 H875V312.7 H876V312.4 H877V311.1 H878V318.1 H879V315.6 H880V315.2 H881V316.2 H882V315.9 H883V312.1 H884V315.6 H885V320.4 H886V324.3 H887V318.7 H888V312.4 H889V312.5 H890V304.6 H891V301.6 H892V299.2 H893V290.0 H894V288.5 H895V289.7 H896V289.0 H897V280.5 H898V275.4 H899V272.4 H900V281.3 H901V278.6 H902V280.9 H903V279.7 H904V279.2 H905V277.3 H906V273.3 H907V275.4 H908V270.8 H909V259.2 H910V266.2 H911V272.3 H912V271.4 H913V278.9 H914V285.2 H915V279.8 H916V277.5 H917V287.5 H918V284.6 H919V286.3 H920V282.6 H921V277.0 H922V281.9 H923V289.9 H924V294.9 H925V292.5 H926V295.1 H927V297.8 H928V292.8 H929V296.1 H930V292.9 H931V300.4 H932V298.6 H933V299.9 H934V299.6 H935V310.9 H936V312.9 H937V304.7 H938V304.9 H939V307.4 H940V307.3 H941V310.5 H942V305.4 H943V306.3 H944V309.2 H945V301.1 H946V301.8 H947V303.9 H948V300.3 H949V306.6 H950V303.9 H951V298.8 H952V297.3 H953V300.3 H954V298.6 H955V298.6 H956V300.5 H957V298.1 H958V300.8 H959V490.6 Z" fill="#f6941f" fill-opacity="0.92"/>
<rect x="51" y="100" width="908" height="391" fill="url(#stripes)" clip-path="url(#oc)"/>
<path d="M51.2 439.1 L52.1 438.3 L53.0 438.7 L53.9 435.5 L54.8 434.5 L55.7 433.7 L56.6 432.7 L57.5 438.8 L58.4 437.9 L59.3 436.3 L60.2 434.1 L61.1 438.4 L62.0 440.9 L62.9 447.7 L63.8 450.6 L64.7 449.7 L65.6 455.8 L66.5 454.5 L67.4 449.3 L68.3 445.7 L69.2 441.3 L70.1 438.2 L71.0 438.8 L71.9 435.5 L72.8 434.9 L73.7 435.3 L74.6 434.9 L75.5 437.4 L76.4 436.1 L77.3 436.6 L78.2 433.8 L79.1 433.3 L80.0 431.6 L80.9 431.1 L81.8 428.6 L82.7 426.1 L83.6 427.4 L84.5 424.9 L85.4 421.6 L86.3 418.0 L87.2 412.8 L88.1 409.1 L89.0 407.8 L89.9 405.1 L90.8 406.6 L91.7 402.3 L92.6 401.5 L93.5 396.8 L94.4 396.2 L95.3 392.5 L96.2 385.7 L97.1 384.0 L98.0 384.4 L98.9 379.6 L99.8 379.0 L100.7 373.5 L101.6 369.7 L102.5 369.9 L103.4 368.4 L104.3 364.8 L105.2 363.1 L106.1 369.8 L107.0 380.0 L107.9 376.8 L108.8 371.6 L109.7 371.1 L110.6 373.6 L111.5 376.6 L112.4 380.9 L113.3 377.5 L114.2 378.6 L115.1 377.5 L116.0 375.9 L116.9 377.8 L117.8 376.4 L118.7 381.2 L119.6 381.4 L120.5 385.5 L121.4 387.2 L122.3 393.2 L123.2 398.7 L124.1 389.0 L125.0 378.7 L125.9 375.0 L126.8 369.7 L127.7 373.0 L128.6 377.6 L129.5 374.8 L130.4 369.4 L131.3 370.0 L132.2 362.9 L133.1 359.4 L134.0 357.1 L134.9 350.6 L135.8 346.0 L136.7 341.1 L137.6 337.2 L138.5 340.1 L139.4 339.4 L140.3 340.6 L141.2 336.9 L142.1 334.7 L143.0 334.9 L143.9 331.0 L144.8 329.7 L145.7 329.8 L146.6 325.6 L147.5 327.6 L148.4 333.8 L149.3 336.7 L150.2 338.1 L151.1 342.1 L152.0 351.3 L152.9 358.9 L153.8 350.8 L154.7 349.6 L155.6 347.4 L156.5 344.2 L157.4 341.5 L158.3 338.3 L159.2 336.3 L160.1 339.2 L161.0 334.8 L161.9 335.6 L162.8 330.7 L163.7 330.0 L164.6 325.8 L165.5 322.0 L166.4 319.1 L167.3 318.9 L168.2 312.8 L169.1 310.9 L170.0 311.2 L170.9 311.3 L171.8 311.0 L172.7 314.0 L173.6 314.2 L174.5 306.4 L175.4 300.9 L176.3 298.8 L177.2 296.8 L178.1 292.3 L179.0 291.4 L179.9 293.3 L180.8 302.5 L181.7 308.9 L182.6 302.7 L183.5 298.3 L184.4 295.4 L185.3 290.6 L186.2 287.4 L187.1 283.8 L188.0 277.5 L188.9 271.8 L189.8 266.5 L190.7 265.2 L191.6 257.8 L192.5 251.9 L193.4 240.6 L194.3 236.5 L195.2 229.5 L196.1 225.5 L197.0 227.6 L197.9 231.1 L198.8 220.7 L199.7 221.3 L200.6 226.8 L201.5 234.0 L202.4 241.4 L203.3 242.7 L204.2 241.4 L205.1 246.7 L206.0 250.8 L206.9 244.6 L207.8 237.8 L208.7 234.2 L209.6 229.9 L210.5 238.4 L211.4 243.3 L212.3 243.7 L213.2 246.3 L214.1 249.9 L215.0 255.8 L215.9 261.6 L216.8 259.5 L217.7 261.5 L218.6 262.7 L219.5 261.8 L220.4 263.7 L221.3 266.5 L222.2 274.2 L223.1 280.2 L224.0 290.3 L224.9 298.8 L225.8 288.1 L226.7 284.6 L227.6 276.9 L228.5 274.7 L229.4 269.3 L230.3 263.2 L231.2 264.1 L232.1 266.6 L233.0 270.5 L233.9 269.6 L234.8 264.4 L235.7 261.5 L236.6 261.0 L237.5 261.0 L238.4 263.7 L239.3 269.2 L240.2 277.0 L241.1 277.0 L242.0 278.2 L242.9 284.4 L243.8 283.4 L244.7 283.0 L245.6 279.1 L246.5 280.7 L247.4 283.5 L248.3 285.2 L249.2 289.1 L250.1 291.7 L251.0 297.4 L251.9 298.0 L252.8 299.0 L253.7 301.5 L254.6 300.7 L255.5 298.4 L256.4 295.2 L257.3 293.3 L258.2 287.3 L259.1 284.1 L260.0 282.7 L260.9 279.3 L261.8 277.3 L262.7 276.5 L263.6 275.7 L264.5 275.7 L265.4 275.7 L266.3 278.1 L267.2 277.7 L268.1 274.2 L269.0 272.2 L269.9 274.1 L270.8 280.0 L271.7 278.4 L272.6 283.1 L273.5 284.3 L274.4 284.9 L275.3 288.7 L276.2 286.9 L277.1 289.1 L278.0 292.2 L278.9 292.0 L279.8 296.9 L280.7 293.1 L281.6 291.5 L282.5 290.1 L283.4 293.3 L284.3 293.2 L285.2 295.4 L286.1 299.1 L287.0 303.4 L287.9 306.2 L288.8 305.5 L289.7 303.8 L290.6 305.5 L291.5 305.3 L292.4 306.1 L293.3 309.7 L294.2 311.5 L295.1 307.4 L296.0 306.0 L296.9 304.9 L297.8 305.9 L298.7 304.5 L299.6 304.7 L300.5 306.0 L301.4 305.0 L302.3 307.4 L303.2 305.7 L304.1 299.6 L305.0 300.2 L305.9 295.4 L306.8 289.0 L307.7 287.4 L308.6 285.6 L309.5 288.1 L310.4 287.0 L311.3 290.4 L312.2 295.0 L313.1 297.8 L314.0 301.5 L314.9 302.5 L315.8 305.1 L316.7 304.7 L317.6 308.5 L318.5 308.0 L319.4 305.9 L320.3 306.0 L321.2 304.4 L322.1 307.8 L323.0 306.4 L323.9 304.7 L324.8 301.3 L325.7 301.3 L326.6 298.1 L327.5 299.4 L328.4 297.9 L329.3 296.7 L330.2 301.0 L331.1 304.8 L332.0 305.9 L332.9 307.4 L333.8 304.8 L334.7 301.4 L335.6 304.3 L336.5 300.9 L337.4 304.0 L338.3 301.2 L339.2 302.0 L340.1 304.1 L341.0 301.4 L341.9 301.7 L342.8 303.6 L343.7 304.7 L344.6 305.6 L345.5 305.5 L346.4 307.1 L347.3 305.6 L348.2 307.0 L349.1 302.7 L350.0 302.8 L350.9 304.1 L351.8 303.3 L352.7 305.5 L353.6 305.3 L354.5 304.5 L355.4 305.7 L356.3 304.3 L357.2 303.6 L358.1 304.4 L359.0 306.9 L359.9 307.2 L360.8 303.9 L361.7 306.5 L362.6 307.0 L363.5 306.8 L364.4 312.6 L365.3 319.9 L366.2 319.3 L367.1 326.1 L368.0 336.2 L368.9 339.8 L369.8 346.4 L370.7 339.7 L371.6 339.4 L372.5 343.8 L373.4 341.4 L374.3 342.3 L375.2 350.9 L376.1 350.5 L377.0 350.6 L377.9 352.5 L378.8 357.2 L379.7 358.9 L380.6 355.0 L381.5 351.3 L382.4 344.5 L383.3 341.2 L384.2 344.6 L385.1 346.5 L386.0 346.0 L386.9 346.6 L387.8 344.7 L388.7 345.3 L389.6 345.5 L390.5 340.9 L391.4 342.6 L392.3 341.8 L393.2 345.4 L394.1 347.6 L395.0 349.0 L395.9 346.7 L396.8 347.9 L397.7 350.2 L398.6 348.9 L399.5 352.3 L400.4 350.2 L401.3 351.6 L402.2 349.8 L403.1 349.2 L404.0 351.9 L404.9 352.8 L405.8 352.5 L406.7 352.0 L407.6 351.8 L408.5 349.1 L409.4 348.2 L410.3 348.9 L411.2 347.8 L412.1 346.2 L413.0 345.1 L413.9 341.5 L414.8 342.8 L415.7 342.5 L416.6 346.9 L417.5 346.9 L418.4 347.0 L419.3 344.1 L420.2 343.8 L421.1 346.2 L422.0 342.8 L422.9 345.8 L423.8 344.9 L424.7 341.0 L425.6 340.9 L426.5 342.4 L427.4 339.7 L428.3 338.6 L429.2 341.6 L430.1 339.6 L431.0 340.3 L431.9 336.1 L432.8 333.6 L433.7 325.0 L434.6 320.9 L435.5 320.5 L436.4 321.8 L437.3 322.2 L438.2 322.3 L439.1 319.2 L440.0 321.5 L440.9 321.6 L441.8 319.4 L442.7 319.2 L443.6 316.4 L444.5 315.2 L445.4 314.3 L446.3 312.8 L447.2 313.9 L448.1 313.2 L449.0 312.9 L449.9 308.7 L450.8 305.2 L451.7 300.0 L452.6 297.6 L453.5 294.0 L454.4 293.0 L455.3 292.9 L456.2 289.3 L457.1 288.2 L458.0 284.7 L458.9 284.7 L459.8 285.1 L460.7 288.4 L461.6 287.3 L462.5 283.4 L463.4 283.8 L464.3 284.7 L465.2 290.5 L466.1 291.8 L467.0 289.6 L467.9 288.1 L468.8 286.6 L469.7 281.7 L470.6 277.2 L471.5 273.2 L472.4 269.9 L473.3 263.1 L474.2 263.0 L475.1 258.3 L476.0 253.2 L476.9 257.2 L477.8 260.7 L478.7 256.3 L479.6 256.4 L480.5 260.5 L481.4 261.7 L482.3 257.2 L483.2 253.9 L484.1 257.9 L485.0 262.3 L485.9 266.5 L486.8 269.9 L487.7 270.3 L488.6 271.2 L489.5 269.8 L490.4 270.9 L491.3 273.4 L492.2 274.6 L493.1 270.3 L494.0 269.1 L494.9 263.5 L495.8 262.1 L496.7 260.1 L497.6 256.1 L498.5 259.5 L499.4 265.0 L500.3 268.4 L501.2 269.2 L502.1 271.8 L503.0 270.1 L503.9 268.5 L504.8 271.1 L505.7 271.9 L506.6 271.2 L507.5 269.3 L508.4 271.0 L509.3 268.9 L510.2 268.7 L511.1 268.6 L512.0 270.0 L512.9 266.2 L513.8 269.3 L514.7 270.2 L515.6 268.6 L516.5 269.6 L517.4 268.5 L518.3 270.3 L519.2 272.2 L520.1 274.2 L521.0 282.2 L521.9 287.9 L522.8 287.0 L523.7 287.2 L524.6 288.8 L525.5 286.5 L526.4 287.9 L527.3 285.9 L528.2 286.2 L529.1 282.6 L530.0 285.0 L530.9 286.7 L531.8 284.5 L532.7 289.4 L533.6 288.3 L534.5 292.0 L535.4 288.1 L536.3 280.9 L537.2 277.6 L538.1 273.9 L539.0 277.4 L539.9 276.5 L540.8 276.8 L541.7 276.7 L542.6 275.6 L543.5 276.5 L544.4 279.5 L545.3 280.6 L546.2 281.2 L547.1 284.9 L548.0 286.1 L548.9 288.1 L549.8 292.4 L550.7 294.7 L551.6 294.9 L552.5 295.6 L553.4 292.7 L554.3 293.8 L555.2 293.9 L556.1 292.5 L557.0 297.2 L557.9 296.3 L558.8 292.9 L559.7 297.9 L560.6 297.2 L561.5 298.9 L562.4 303.9 L563.3 298.5 L564.2 296.5 L565.1 297.7 L566.0 296.7 L566.9 296.2 L567.8 299.3 L568.7 299.7 L569.6 298.7 L570.5 294.1 L571.4 293.8 L572.3 289.9 L573.2 286.9 L574.1 286.9 L575.0 288.2 L575.9 283.6 L576.8 282.5 L577.7 282.4 L578.6 280.6 L579.5 281.0 L580.4 282.8 L581.3 279.8 L582.2 279.1 L583.1 276.3 L584.0 276.9 L584.9 277.8 L585.8 277.9 L586.7 274.2 L587.6 271.7 L588.5 273.9 L589.4 272.1 L590.3 270.2 L591.2 267.9 L592.1 268.7 L593.0 271.8 L593.9 270.9 L594.8 270.6 L595.7 271.7 L596.6 273.3 L597.5 275.5 L598.4 279.0 L599.3 283.4 L600.2 283.5 L601.1 282.7 L602.0 277.8 L602.9 276.4 L603.8 282.8 L604.7 293.8 L605.6 321.5 L606.5 319.6 L607.4 320.2 L608.3 314.2 L609.2 310.4 L610.1 311.6 L611.0 305.8 L611.9 308.0 L612.8 303.1 L613.7 307.5 L614.6 309.7 L615.5 303.9 L616.4 302.7 L617.3 300.8 L618.2 295.4 L619.1 295.4 L620.0 299.2 L620.9 299.5 L621.8 301.0 L622.7 296.7 L623.6 296.4 L624.5 296.2 L625.4 299.2 L626.3 295.4 L627.2 294.9 L628.1 292.8 L629.0 286.0 L629.9 284.5 L630.8 282.9 L631.7 282.0 L632.6 278.2 L633.5 273.7 L634.4 273.7 L635.3 280.2 L636.2 274.0 L637.1 274.9 L638.0 281.0 L638.9 281.2 L639.8 282.7 L640.7 279.8 L641.6 280.3 L642.5 275.7 L643.4 275.1 L644.3 275.3 L645.2 270.8 L646.1 271.8 L647.0 274.2 L647.9 275.0 L648.8 274.3 L649.7 274.1 L650.6 274.4 L651.5 275.9 L652.4 275.3 L653.3 275.2 L654.2 277.6 L655.1 276.6 L656.0 277.8 L656.9 278.8 L657.8 279.6 L658.7 277.8 L659.6 278.9 L660.5 276.2 L661.4 276.6 L662.3 277.5 L663.2 280.0 L664.1 279.0 L665.0 275.3 L665.9 275.4 L666.8 275.9 L667.7 276.3 L668.6 275.7 L669.5 274.3 L670.4 272.2 L671.3 271.1 L672.2 268.8 L673.1 263.7 L674.0 263.6 L674.9 261.0 L675.8 258.7 L676.7 260.7 L677.6 260.7 L678.5 257.6 L679.4 256.1 L680.3 257.8 L681.2 257.5 L682.1 257.1 L683.0 258.4 L683.9 256.9 L684.8 258.4 L685.7 256.1 L686.6 259.1 L687.5 259.9 L688.4 256.4 L689.3 256.0 L690.2 260.0 L691.1 263.7 L692.0 263.2 L692.9 266.8 L693.8 265.9 L694.7 269.1 L695.6 268.2 L696.5 266.0 L697.4 265.5 L698.3 266.5 L699.2 264.0 L700.1 263.6 L701.0 262.1 L701.9 262.7 L702.8 266.4 L703.7 265.7 L704.6 264.5 L705.5 264.3 L706.4 264.7 L707.3 265.0 L708.2 266.2 L709.1 264.4 L710.0 266.0 L710.9 264.4 L711.8 264.4 L712.7 263.2 L713.6 262.0 L714.5 261.0 L715.4 260.0 L716.3 257.3 L717.2 255.4 L718.1 254.8 L719.0 252.8 L719.9 246.5 L720.8 244.3 L721.7 241.2 L722.6 241.9 L723.5 240.4 L724.4 234.4 L725.3 230.3 L726.2 228.7 L727.1 228.4 L728.0 226.1 L728.9 226.8 L729.8 220.6 L730.7 219.5 L731.6 216.6 L732.5 218.9 L733.4 221.1 L734.3 220.1 L735.2 219.3 L736.1 219.8 L737.0 219.5 L737.9 221.5 L738.8 218.3 L739.7 219.7 L740.6 221.2 L741.5 221.4 L742.4 217.6 L743.3 215.9 L744.2 211.5 L745.1 206.0 L746.0 202.5 L746.9 204.2 L747.8 205.0 L748.7 204.5 L749.6 198.2 L750.5 195.2 L751.4 192.4 L752.3 186.5 L753.2 180.1 L754.1 177.3 L755.0 171.8 L755.9 165.1 L756.8 163.1 L757.7 166.9 L758.6 168.2 L759.5 171.3 L760.4 168.5 L761.3 172.5 L762.2 177.5 L763.1 180.4 L764.0 184.7 L764.9 183.3 L765.8 179.3 L766.7 178.1 L767.6 172.2 L768.5 165.8 L769.4 160.3 L770.3 157.8 L771.2 153.7 L772.1 152.3 L773.0 149.4 L773.9 147.2 L774.8 144.3 L775.7 140.9 L776.6 138.2 L777.5 135.2 L778.4 138.5 L779.3 140.3 L780.2 145.2 L781.1 150.7 L782.0 144.7 L782.9 142.9 L783.8 138.0 L784.7 137.5 L785.6 131.2 L786.5 131.9 L787.4 132.7 L788.3 133.2 L789.2 131.9 L790.1 135.3 L791.0 138.6 L791.9 134.7 L792.8 135.2 L793.7 135.3 L794.6 138.0 L795.5 136.9 L796.4 136.4 L797.3 132.0 L798.2 132.9 L799.1 130.7 L800.0 132.3 L800.9 128.1 L801.8 130.7 L802.7 127.3 L803.6 127.8 L804.5 129.9 L805.4 131.4 L806.3 137.7 L807.2 139.3 L808.1 141.2 L809.0 138.3 L809.9 137.4 L810.8 136.7 L811.7 136.4 L812.6 135.8 L813.5 139.5 L814.4 136.4 L815.3 135.1 L816.2 134.1 L817.1 139.7 L818.0 144.1 L818.9 150.2 L819.8 153.5 L820.7 161.0 L821.6 167.4 L822.5 166.5 L823.4 166.3 L824.3 167.8 L825.2 169.4 L826.1 171.0 L827.0 169.5 L827.9 170.5 L828.8 171.9 L829.7 168.0 L830.6 166.4 L831.5 166.3 L832.4 167.9 L833.3 167.3 L834.2 163.9 L835.1 167.7 L836.0 169.5 L836.9 174.9 L837.8 179.1 L838.7 174.6 L839.6 178.1 L840.5 177.6 L841.4 174.9 L842.3 171.7 L843.2 176.6 L844.1 173.8 L845.0 173.5 L845.9 173.5 L846.8 177.8 L847.7 179.6 L848.6 179.0 L849.5 181.6 L850.4 185.1 L851.3 185.1 L852.2 182.3 L853.1 177.3 L854.0 171.4 L854.9 165.8 L855.8 161.9 L856.7 159.2 L857.6 161.6 L858.5 160.9 L859.4 163.6 L860.3 155.8 L861.2 155.0 L862.1 153.9 L863.0 151.7 L863.9 151.9 L864.8 152.6 L865.7 148.9 L866.6 148.3 L867.5 148.0 L868.4 149.7 L869.3 149.3 L870.2 148.6 L871.1 147.4 L872.0 143.8 L872.9 147.3 L873.8 149.5 L874.7 148.2 L875.6 141.6 L876.5 145.0 L877.4 150.9 L878.3 153.6 L879.2 154.3 L880.1 152.4 L881.0 148.9 L881.9 153.6 L882.8 160.8 L883.7 158.9 L884.6 155.7 L885.5 157.7 L886.4 158.3 L887.3 155.7 L888.2 151.8 L889.1 144.8 L890.0 141.3 L890.9 138.8 L891.8 136.3 L892.7 140.2 L893.6 136.6 L894.5 131.1 L895.4 128.4 L896.3 127.1 L897.2 126.1 L898.1 126.4 L899.0 129.2 L899.9 131.3 L900.8 128.3 L901.7 130.0 L902.6 130.2 L903.5 132.6 L904.4 127.2 L905.3 129.3 L906.2 126.3 L907.1 124.7 L908.0 123.0 L908.9 123.1 L909.8 127.5 L910.7 131.8 L911.6 135.8 L912.5 134.2 L913.4 130.8 L914.3 135.0 L915.2 135.0 L916.1 138.1 L917.0 134.1 L917.9 137.4 L918.8 141.7 L919.7 142.4 L920.6 147.1 L921.5 143.5 L922.4 143.6 L923.3 146.5 L924.2 151.3 L925.1 149.9 L926.0 147.9 L926.9 148.1 L927.8 151.5 L928.7 148.5 L929.6 144.0 L930.5 144.2 L931.4 146.2 L932.3 146.0 L933.2 149.3 L934.1 149.9 L935.0 147.9 L935.9 152.1 L936.8 155.9 L937.7 156.0 L938.6 159.0 L939.5 156.9 L940.4 157.2 L941.3 157.6 L942.2 160.7 L943.1 162.4 L944.0 170.3 L944.9 170.7 L945.8 172.3 L946.7 169.5 L947.6 167.9 L948.5 167.9 L949.4 169.5 L950.3 166.5 L951.2 162.8 L952.1 158.9 L953.0 156.0 L953.9 156.6 L954.8 158.3 L955.7 160.2 L956.6 155.3 L957.5 157.4 L958.4 163.6 L959.3 167.8" fill="none" stroke="#2b2b2b" stroke-opacity="0.62" stroke-width="0.8" stroke-linejoin="round"/>
<polygon points="235.1,405.2 953.1,266 961,309.6 243.4,447.3" fill="#f0145a" fill-opacity="0.17"/>
<g stroke="#f5125c" stroke-width="1.9" stroke-dasharray="3.9 3.52" fill="none">
<line x1="238.0" y1="402.0" x2="953.6" y2="265.3"/>
<line x1="246.4" y1="445.7" x2="961.7" y2="308.8"/>
</g>
<g fill="#10b981" fill-opacity="0.16" stroke="#14a877" stroke-width="1.25" stroke-dasharray="3.2 2.5"><ellipse cx="59.4" cy="343.8" rx="9.3" ry="14.0"/><ellipse cx="99.3" cy="315.6" rx="11.3" ry="22.7"/><ellipse cx="197.3" cy="196.5" rx="10.5" ry="22.0"/><ellipse cx="437.0" cy="351.0" rx="9.5" ry="13.6"/><ellipse cx="457.9" cy="330.6" rx="11.1" ry="22.8"/><ellipse cx="480.5" cy="314.8" rx="10.4" ry="21.9"/><ellipse cx="638.0" cy="285.0" rx="14.3" ry="22.6"/><ellipse cx="681.2" cy="247.8" rx="14.5" ry="22.6"/><ellipse cx="764.8" cy="161.0" rx="20.3" ry="38.9"/></g>
<g fill="none" stroke="#2f6bff" stroke-width="1.35" stroke-dasharray="3.4 3.1">
<polyline points="830,235.1 954.6,235.1 954.6,289"/>
</g>
<circle cx="955.1" cy="300.05" r="10.55" fill="#2463ff" fill-opacity="0.15" stroke="#1f60ff" stroke-width="1.35" stroke-dasharray="4.9 3.386" stroke-dashoffset="2.45"/>
<rect x="546" y="400.5" width="385.5" height="52" fill="#fff" fill-opacity="0.45"/>
<g font-size="8.6" fill="#d08528"><text x="50.2" y="124.2" text-anchor="end" letter-spacing="0.25">400k</text><text x="50.2" y="157.4" text-anchor="end" letter-spacing="0.25">375k</text><text x="50.2" y="190.7" text-anchor="end" letter-spacing="0.25">350k</text><text x="50.2" y="223.9" text-anchor="end" letter-spacing="0.25">325k</text><text x="50.2" y="257.1" text-anchor="end" letter-spacing="0.25">300k</text><text x="50.2" y="290.3" text-anchor="end" letter-spacing="0.25">275k</text><text x="50.2" y="323.5" text-anchor="end" letter-spacing="0.25">250k</text><text x="50.2" y="356.8" text-anchor="end" letter-spacing="0.25">225k</text><text x="50.2" y="390.0" text-anchor="end" letter-spacing="0.25">200k</text><text x="50.2" y="423.2" text-anchor="end" letter-spacing="0.25">175k</text><text x="50.2" y="456.4" text-anchor="end" letter-spacing="0.25">150k</text><text x="50.2" y="489.6" text-anchor="end" letter-spacing="0.25">125k</text></g>
<g font-size="8.6" fill="#595d68"><text x="986.1" y="129.9" text-anchor="end" letter-spacing="0.35">$60k</text><text x="986.1" y="215.6" text-anchor="end" letter-spacing="0.35">$20k</text><text x="986.1" y="287.1" text-anchor="end" letter-spacing="0.35">$8k</text><text x="986.1" y="341.1" text-anchor="end" letter-spacing="0.35">$4k</text><text x="986.1" y="449.3" text-anchor="end" letter-spacing="0.35">$1k</text><text x="986.1" y="489.1" text-anchor="end" letter-spacing="0.35">$600</text></g>
<g font-size="8.8" fill="#555"><text x="84.9" y="504.2" text-anchor="middle" letter-spacing="0.12">May '17</text><text x="146.1" y="504.2" text-anchor="middle" letter-spacing="0.12">Sep '17</text><text x="207.4" y="504.2" text-anchor="middle" letter-spacing="0.12">Jan '18</text><text x="267.0" y="504.2" text-anchor="middle" letter-spacing="0.12">May '18</text><text x="328.1" y="504.2" text-anchor="middle" letter-spacing="0.12">Sep '18</text><text x="388.4" y="504.2" text-anchor="middle" letter-spacing="0.12">Jan '19</text><text x="448.2" y="504.2" text-anchor="middle" letter-spacing="0.12">May '19</text><text x="509.7" y="504.2" text-anchor="middle" letter-spacing="0.12">Sep '19</text><text x="570.3" y="504.2" text-anchor="middle" letter-spacing="0.12">Jan '20</text><text x="630.7" y="504.2" text-anchor="middle" letter-spacing="0.12">May '20</text><text x="692.0" y="504.2" text-anchor="middle" letter-spacing="0.12">Sep '20</text><text x="752.3" y="504.2" text-anchor="middle" letter-spacing="0.12">Jan '21</text><text x="811.7" y="504.2" text-anchor="middle" letter-spacing="0.12">May '21</text><text x="873.0" y="504.2" text-anchor="middle" letter-spacing="0.12">Sep '21</text><text x="933.5" y="504.2" text-anchor="middle" letter-spacing="0.12">Jan '22</text></g>
<circle cx="808.5" cy="89.4" r="3.1" fill="#f7a035"/><circle cx="932" cy="89.5" r="3.0" fill="#7a7a7a"/><text x="814.48" y="92.25" font-size="8.3" font-weight="normal" font-style="normal" fill="#3a3a3a" stroke="#3a3a3a" stroke-width="0.15" textLength="30.64" lengthAdjust="spacingAndGlyphs" >Number</text><text x="848.74" y="92.25" font-size="8.3" font-weight="normal" font-style="normal" fill="#3a3a3a" stroke="#3a3a3a" stroke-width="0.15" textLength="7.18" lengthAdjust="spacingAndGlyphs" >of</text><text x="859.20" y="92.25" font-size="8.3" font-weight="normal" font-style="normal" fill="#3a3a3a" stroke="#3a3a3a" stroke-width="0.15" textLength="23.76" lengthAdjust="spacingAndGlyphs" >Active</text><text x="885.57" y="92.25" font-size="8.3" font-weight="normal" font-style="normal" fill="#3a3a3a" stroke="#3a3a3a" stroke-width="0.15" textLength="28.96" lengthAdjust="spacingAndGlyphs" >Entities</text><text x="937.88" y="92.25" font-size="8.3" font-weight="normal" font-style="normal" fill="#3a3a3a" stroke="#3a3a3a" stroke-width="0.15" textLength="19.79" lengthAdjust="spacingAndGlyphs" >Price</text><text x="960.48" y="92.25" font-size="8.3" font-weight="normal" font-style="normal" fill="#3a3a3a" stroke="#3a3a3a" stroke-width="0.15" textLength="22.82" lengthAdjust="spacingAndGlyphs" >[USD]</text>
<text x="527.23" y="174.40" font-size="17" font-weight="bold" font-style="normal" fill="#0ea565" textLength="35.29" lengthAdjust="spacingAndGlyphs" >Bull</text><text x="565.52" y="174.40" font-size="17" font-weight="bold" font-style="normal" fill="#0ea565" textLength="60.32" lengthAdjust="spacingAndGlyphs" >Market</text><text x="630.78" y="174.40" font-size="17" font-weight="bold" font-style="normal" fill="#0ea565" textLength="65.42" lengthAdjust="spacingAndGlyphs" >Growth</text><text x="500.88" y="195.90" font-size="17" font-weight="normal" font-style="italic" fill="#0ea565" textLength="48.43" lengthAdjust="spacingAndGlyphs" >(More</text><text x="555.04" y="195.90" font-size="17" font-weight="normal" font-style="italic" fill="#0ea565" textLength="48.20" lengthAdjust="spacingAndGlyphs" >Users</text><text x="608.76" y="195.90" font-size="17" font-weight="normal" font-style="italic" fill="#0ea565" textLength="15.80" lengthAdjust="spacingAndGlyphs" >In</text><text x="629.93" y="195.90" font-size="17" font-weight="normal" font-style="italic" fill="#0ea565" textLength="36.58" lengthAdjust="spacingAndGlyphs" >Each</text><text x="672.52" y="195.90" font-size="17" font-weight="normal" font-style="italic" fill="#0ea565" textLength="49.97" lengthAdjust="spacingAndGlyphs" >Rally)</text><text x="833.99" y="206.70" font-size="17.3" font-weight="bold" font-style="normal" fill="#1463ff" textLength="82.76" lengthAdjust="spacingAndGlyphs" >Currently</text><text x="921.35" y="206.70" font-size="17.3" font-weight="bold" font-style="normal" fill="#1463ff" textLength="16.78" lengthAdjust="spacingAndGlyphs" >at</text><text x="828.29" y="228.20" font-size="17.3" font-weight="bold" font-style="normal" fill="#1463ff" textLength="53.46" lengthAdjust="spacingAndGlyphs" >Lower</text><text x="886.88" y="228.20" font-size="17.3" font-weight="bold" font-style="normal" fill="#1463ff" textLength="57.60" lengthAdjust="spacingAndGlyphs" >Bound</text><text x="609.38" y="421.30" font-size="17.3" font-weight="bold" font-style="normal" fill="#f2125a" stroke="#f2125a" stroke-width="0.25" textLength="39.31" lengthAdjust="spacingAndGlyphs" >Bear</text><text x="654.31" y="421.30" font-size="17.3" font-weight="bold" font-style="normal" fill="#f2125a" stroke="#f2125a" stroke-width="0.25" textLength="60.83" lengthAdjust="spacingAndGlyphs" >Market</text><text x="720.53" y="421.30" font-size="17.3" font-weight="bold" font-style="normal" fill="#f2125a" stroke="#f2125a" stroke-width="0.25" textLength="66.70" lengthAdjust="spacingAndGlyphs" >Activity</text><text x="793.06" y="421.30" font-size="17.3" font-weight="bold" font-style="normal" fill="#f2125a" stroke="#f2125a" stroke-width="0.25" textLength="73.09" lengthAdjust="spacingAndGlyphs" >Channel</text><text x="553.01" y="442.60" font-size="17.3" font-weight="normal" font-style="italic" fill="#f2125a" textLength="77.07" lengthAdjust="spacingAndGlyphs" >(Primarily</text><text x="637.86" y="442.60" font-size="17.3" font-weight="normal" font-style="italic" fill="#f2125a" textLength="89.48" lengthAdjust="spacingAndGlyphs" >Long-Term</text><text x="735.19" y="442.60" font-size="17.3" font-weight="normal" font-style="italic" fill="#f2125a" textLength="66.65" lengthAdjust="spacingAndGlyphs" >Investor</text><text x="808.29" y="442.60" font-size="17.3" font-weight="normal" font-style="italic" fill="#f2125a" textLength="40.27" lengthAdjust="spacingAndGlyphs" >Base</text><text x="853.97" y="442.60" font-size="17.3" font-weight="normal" font-style="italic" fill="#f2125a" textLength="69.26" lengthAdjust="spacingAndGlyphs" >Remain)</text>
<text x="917.89" y="564.60" font-size="18.2" font-weight="normal" font-style="normal" fill="#111" stroke="#111" stroke-width="0.5" textLength="10.30" lengthAdjust="spacingAndGlyphs" >g</text><text x="928.65" y="564.60" font-size="18.2" font-weight="normal" font-style="normal" fill="#111" stroke="#111" stroke-width="0.5" textLength="3.84" lengthAdjust="spacingAndGlyphs" >l</text><text x="933.22" y="564.60" font-size="18.2" font-weight="normal" font-style="normal" fill="#111" stroke="#111" stroke-width="0.5" textLength="8.91" lengthAdjust="spacingAndGlyphs" >a</text><text x="943.39" y="564.60" font-size="18.2" font-weight="normal" font-style="normal" fill="#111" stroke="#111" stroke-width="0.5" textLength="8.00" lengthAdjust="spacingAndGlyphs" >s</text><text x="951.99" y="564.60" font-size="18.2" font-weight="normal" font-style="normal" fill="#111" stroke="#111" stroke-width="0.5" textLength="8.00" lengthAdjust="spacingAndGlyphs" >s</text><text x="960.82" y="564.60" font-size="18.2" font-weight="normal" font-style="normal" fill="#111" stroke="#111" stroke-width="0.5" textLength="8.96" lengthAdjust="spacingAndGlyphs" >n</text><text x="970.48" y="564.60" font-size="18.2" font-weight="normal" font-style="normal" fill="#111" stroke="#111" stroke-width="0.5" textLength="10.57" lengthAdjust="spacingAndGlyphs" >o</text><text x="981.79" y="564.60" font-size="18.2" font-weight="normal" font-style="normal" fill="#111" stroke="#111" stroke-width="0.5" textLength="10.41" lengthAdjust="spacingAndGlyphs" >d</text><text x="992.88" y="564.60" font-size="18.2" font-weight="normal" font-style="normal" fill="#111" stroke="#111" stroke-width="0.5" textLength="10.52" lengthAdjust="spacingAndGlyphs" >e</text>
<text x="21.94" y="47.90" font-size="26.3" font-weight="normal" font-style="normal" fill="#374151" stroke="#374151" stroke-width="0.45" textLength="92.98" lengthAdjust="spacingAndGlyphs" >Bitcoin:</text><text x="125.96" y="47.90" font-size="26.3" font-weight="normal" font-style="normal" fill="#374151" stroke="#374151" stroke-width="0.45" textLength="99.94" lengthAdjust="spacingAndGlyphs" >Number</text><text x="238.67" y="47.90" font-size="26.3" font-weight="normal" font-style="normal" fill="#374151" stroke="#374151" stroke-width="0.45" textLength="22.61" lengthAdjust="spacingAndGlyphs" >of</text><text x="275.27" y="47.90" font-size="26.3" font-weight="normal" font-style="normal" fill="#374151" stroke="#374151" stroke-width="0.45" textLength="78.18" lengthAdjust="spacingAndGlyphs" >Active</text><text x="360.50" y="47.90" font-size="26.3" font-weight="normal" font-style="normal" fill="#374151" stroke="#374151" stroke-width="0.45" textLength="99.16" lengthAdjust="spacingAndGlyphs" >Entities</text><text x="467.88" y="47.90" font-size="26.3" font-weight="normal" font-style="normal" fill="#374151" stroke="#374151" stroke-width="0.45" textLength="63.80" lengthAdjust="spacingAndGlyphs" >(14d</text><text x="537.83" y="47.90" font-size="26.3" font-weight="normal" font-style="normal" fill="#374151" stroke="#374151" stroke-width="0.45" textLength="71.30" lengthAdjust="spacingAndGlyphs" >EMA)</text><text x="22.54" y="563.00" font-size="10.8" font-weight="normal" font-style="normal" fill="#858585" textLength="8.29" lengthAdjust="spacingAndGlyphs" >©</text><text x="34.00" y="563.00" font-size="10.8" font-weight="normal" font-style="normal" fill="#858585" textLength="24.14" lengthAdjust="spacingAndGlyphs" >2022</text><text x="61.04" y="563.00" font-size="10.8" font-weight="normal" font-style="normal" fill="#858585" textLength="50.47" lengthAdjust="spacingAndGlyphs" >Glassnode.</text><text x="114.75" y="563.00" font-size="10.8" font-weight="normal" font-style="normal" fill="#858585" textLength="10.56" lengthAdjust="spacingAndGlyphs" >All</text><text x="127.37" y="563.00" font-size="10.8" font-weight="normal" font-style="normal" fill="#858585" textLength="28.57" lengthAdjust="spacingAndGlyphs" >Rights</text><text x="158.57" y="563.00" font-size="10.8" font-weight="normal" font-style="normal" fill="#858585" textLength="45.83" lengthAdjust="spacingAndGlyphs" >Reserved.</text>
</svg>
</body></html>
